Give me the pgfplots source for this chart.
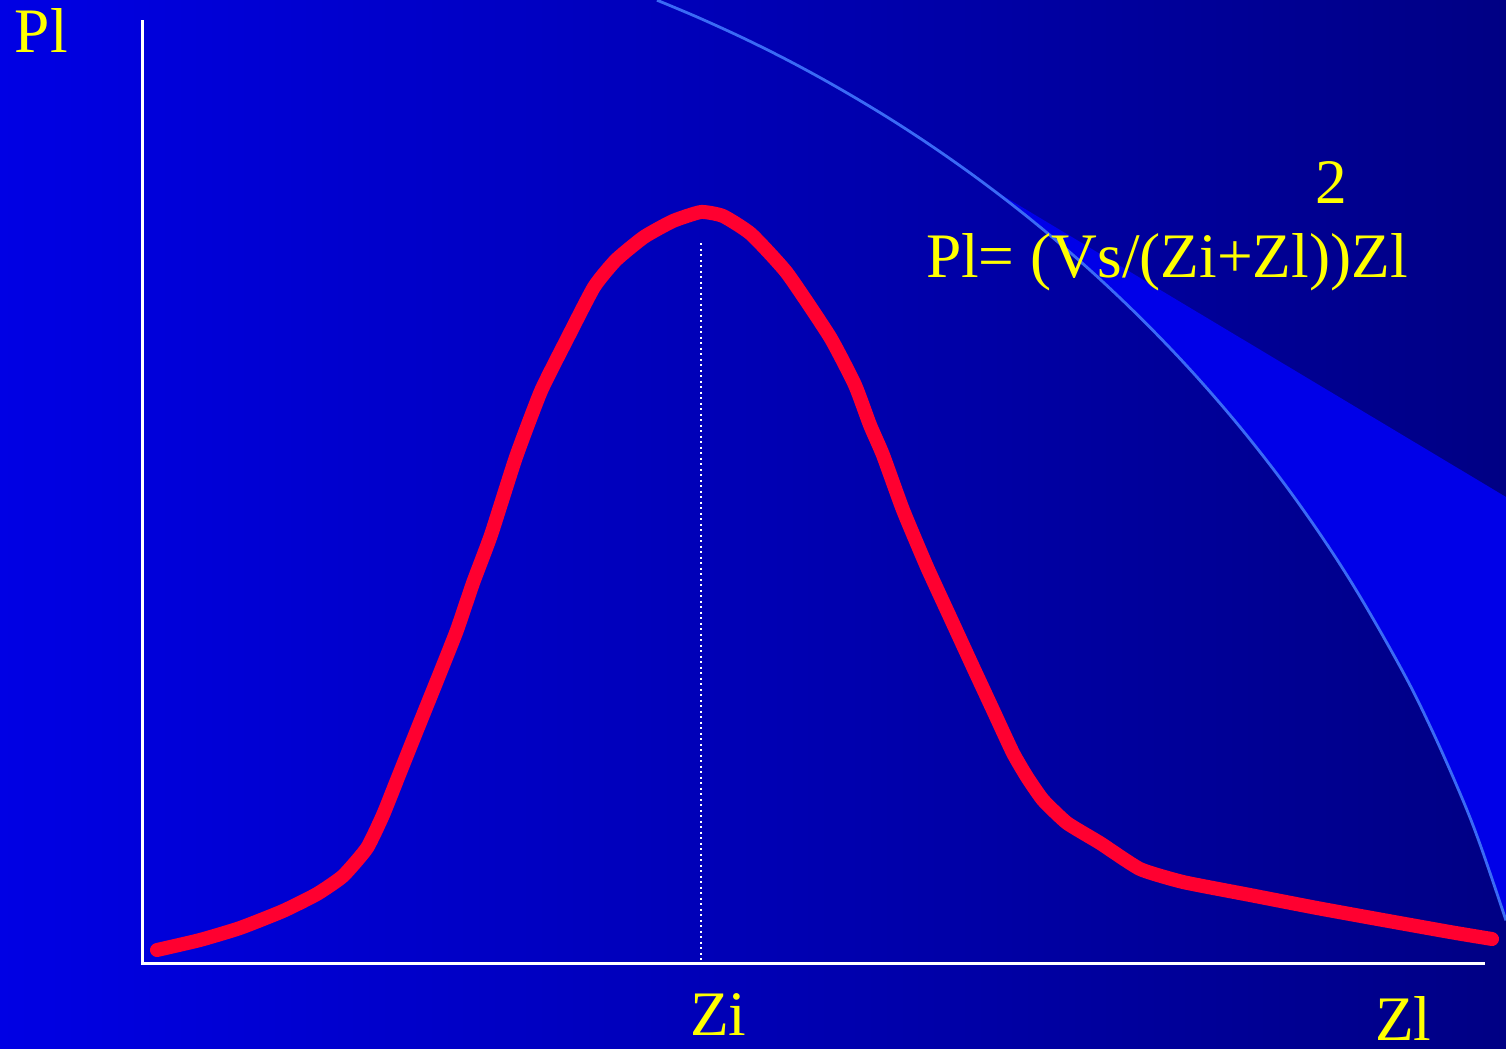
\documentclass[border=0pt]{standalone}
\usepackage{pgfplots}
\pgfplotsset{compat=1.18}
\usepackage{fontspec}
\setmainfont{Liberation Serif}

\definecolor{bgleft}{RGB}{0,0,228}
\definecolor{bgright}{RGB}{0,0,132}
\definecolor{wedge}{RGB}{0,0,232}
\definecolor{arcline}{RGB}{58,106,245}
\definecolor{curvered}{RGB}{255,0,48}
\definecolor{labelyellow}{RGB}{255,255,0}

\begin{document}
\begin{tikzpicture}
\begin{axis}[
  scale only axis,
  width=753pt, height=524.5pt,
  xmin=0, xmax=1506, ymin=0, ymax=1049,
  y dir=reverse,
  axis lines=none,
  clip=true,
]
% slide background
\addplot[draw=none, left color=bgleft, right color=bgright]
  coordinates {(0,0) (1506,0) (1506,1049) (0,1049)} -- cycle;

% bright wedge between the arc and the diagonal edge
\addplot[draw=none, fill=wedge] coordinates {
  (985,185) (1506,497) (1506,920.4)
  (1480,844.2) (1460,793.3) (1430,726) (1400,666.5) (1350,580.1)
  (1300,505.3) (1250,439.4) (1200,380.5) (1150,327.4) (1100,279.2)
  (1050,235.3) (1000,195.3) (985,185)
} -- cycle;

% decorative arc
\addplot[arcline, line width=1.4pt, smooth, tension=0.6] coordinates {
  (657,0.2) (700,18.3) (750,41.3) (800,66.7) (850,94.7) (900,125.2)
  (950,158.7) (1000,195.3) (1050,235.3) (1100,279.2) (1150,327.4)
  (1200,380.5) (1250,439.4) (1300,505.3) (1350,580.1) (1400,666.5)
  (1430,726) (1460,793.3) (1480,844.2) (1506,920.4)
};

% axes
\addplot[white, line width=1.5pt] coordinates {(142,20) (142,963) (1485,963)};

% marker at the load matching point
\addplot[white, line width=1pt, dash pattern=on 1pt off 1.75pt]
  coordinates {(701,243) (701,963)};

% power delivered to the load
\addplot[curvered, line width=7pt, line cap=round, line join=round, smooth, tension=0.3]
  coordinates {
  (157,950) (200,940) (240,928) (283,911) (317,894) (343,876) (367,848)
  (383,815) (397,780) (417,730) (440,673) (457,630) (473,583) (491,535)
  (516,457) (541,391) (566,341) (594,287) (616,260) (644,237) (673,221)
  (701,212) (723,216) (751,234) (787,273) (830,337) (855,385) (870,425)
  (883,455) (903,510) (927,567) (950,617) (973,667) (993,710) (1013,753)
  (1027,777) (1043,800) (1067,823) (1100,843) (1140,869) (1183,882)
  (1250,895) (1317,908) (1383,920) (1450,932) (1492,939)
};

% labels
\begin{scope}[every node/.style={text=labelyellow, inner sep=0pt, outer sep=0pt,
    font=\fontsize{31.7}{34}\selectfont, anchor=base west}]
\node at (axis cs:15,52) {Pl};
\node at (axis cs:690,1035) {Zi};
\node at (axis cs:1375,1040) {Zl};
\node at (axis cs:1315,203) {2};
\node at (axis cs:926,277) {Pl= (Vs/(Zi+Zl))Zl};
\end{scope}
\end{axis}
\end{tikzpicture}
\end{document}
